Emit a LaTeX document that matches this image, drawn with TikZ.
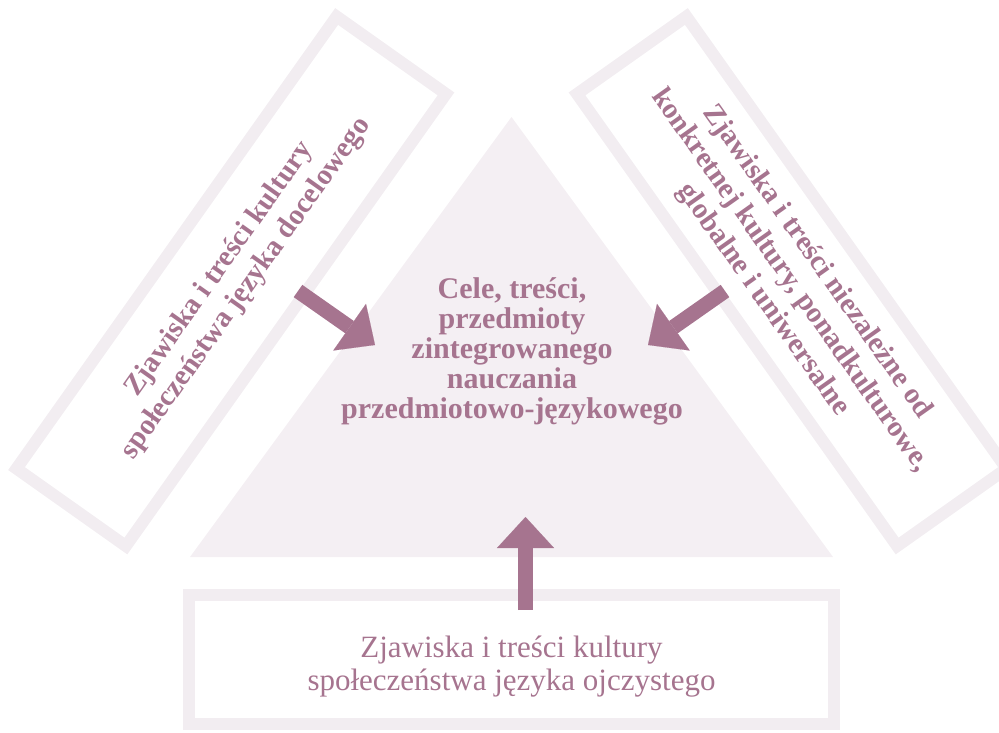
\documentclass[tikz,border=0pt]{standalone}
\usepackage{fontspec}
\setmainfont{Liberation Serif}
\usetikzlibrary{arrows.meta}
\definecolor{mauve}{RGB}{166,116,143}
\definecolor{framecol}{RGB}{242,237,241}
\definecolor{trifill}{RGB}{244,239,243}
\begin{document}
\begin{tikzpicture}[x=1pt,y=-1pt,
  framebox/.style={draw=framecol, line width=12pt, inner sep=0pt, rectangle},
  boldlabel/.style={text=mauve, align=center, inner sep=0pt, font=\bfseries\fontsize{30}{30}\selectfont},
  rotlabel/.style={text=mauve, align=center, inner sep=0pt, font=\bfseries\fontsize{29}{33}\selectfont},
  plainlabel/.style={text=mauve, align=center, inner sep=0pt, font=\fontsize{31}{33}\selectfont},
  bigarrow/.style={draw=mauve, line width=15pt, -{Triangle[width=57pt,length=31pt,line width=0.1pt]}}
]
\useasboundingbox (0,0) rectangle (999,733);
% central triangle
\path[fill=trifill] (511.5,117) -- (190,557) -- (833,557) -- cycle;
% boxes
\node[framebox, minimum width=554pt, minimum height=134pt, rotate=54.7] (leftbox) at (231.25,281.25) {};
\node[framebox, minimum width=554pt, minimum height=134pt, rotate=-54.7] (rightbox) at (791.75,281.25) {};
\node[framebox, minimum width=645pt, minimum height=129pt] (bottombox) at (511.5,659.5) {};
% texts
\node[boldlabel] (center) at (512,351) {Cele, treści,\\przedmioty\\zintegrowanego\\nauczania\\przedmiotowo-językowego};
\node[rotlabel, rotate=54.7] (lefttext) at (233,279) {Zjawiska i treści kultury\\społeczeństwa języka docelowego};
\node[rotlabel, rotate=-54.7] (righttext) at (790,281) {Zjawiska i treści niezależne od\\konkretnej kultury, ponadkulturowe,\\globalne i uniwersalne};
\node[plainlabel] (bottomtext) at (511.5,667) {Zjawiska i treści kultury\\społeczeństwa języka ojczystego};
% arrows
\coordinate (ltail) at (298,291); \coordinate (ltip) at (375,345);
\coordinate (rtail) at (725,291); \coordinate (rtip) at (648,345);
\coordinate (btail) at (525.5,610); \coordinate (btip) at (525.5,517);
\draw[bigarrow] (ltail) -- (ltip);
\draw[bigarrow] (rtail) -- (rtip);
\draw[bigarrow] (btail) -- (btip);
\end{tikzpicture}
\end{document}
